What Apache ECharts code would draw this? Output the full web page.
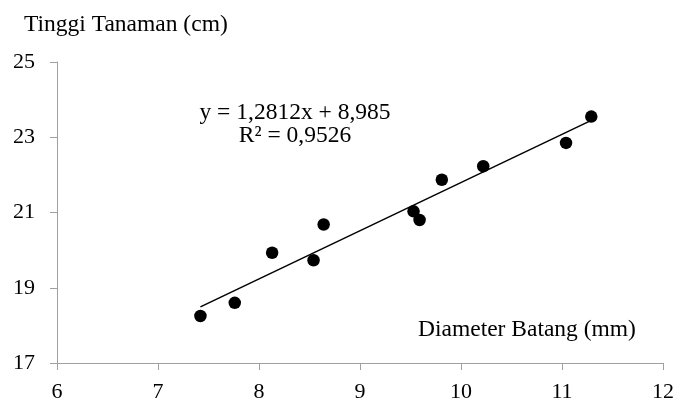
<!DOCTYPE html>
<html>
<head>
<meta charset="utf-8">
<script src="https://cdn.jsdelivr.net/npm/echarts@6/dist/echarts.min.js"></script>
<style>
  html, body { margin: 0; padding: 0; background: #fff; }
  #chart { width: 677px; height: 403px; }
</style>
</head>
<body>
<div id="chart"></div>
<script>
  // diameter batang (mm) vs tinggi tanaman (cm)
  var diameter = [7.42, 7.76, 8.13, 8.54, 8.64, 9.53, 9.59, 9.81, 10.22, 11.04, 11.29];
  var tinggi   = [18.25, 18.6, 19.93, 19.73, 20.68, 21.03, 20.8, 21.87, 22.23, 22.85, 23.55];
  var slope = 1.2812, intercept = 8.985;
  var xTicks = [6, 7, 8, 9, 10, 11, 12];
  var yTicks = [17, 19, 21, 23, 25];

  var font = '"Liberation Serif", "Times New Roman", serif';
  var axisGray = '#a0a0a0';

  var points = diameter.map(function (d, i) { return [d, tinggi[i]]; });
  var xMin = Math.min.apply(null, diameter), xMax = Math.max.apply(null, diameter);
  var trend = [[xMin, slope * xMin + intercept], [xMax, slope * xMax + intercept]];

  var chart = echarts.init(document.getElementById('chart'));
  chart.setOption({
    animation: false,
    title: {
      text: 'Tinggi Tanaman (cm)',
      left: 19, top: 8,
      textStyle: { fontFamily: font, fontSize: 23.5, fontWeight: 'normal', color: '#000' }
    },
    grid: { left: 57, right: 14, top: 62, bottom: 39, containLabel: false },
    xAxis: {
      type: 'value',
      min: xTicks[0], max: xTicks[xTicks.length - 1], interval: 1,
      axisLine: { show: true, lineStyle: { color: axisGray, width: 1 } },
      axisTick: { show: true, length: 7, lineStyle: { color: axisGray } },
      splitLine: { show: false },
      axisLabel: { margin: 18, fontFamily: font, fontSize: 22, color: '#000' }
    },
    yAxis: {
      type: 'value',
      min: yTicks[0], max: yTicks[yTicks.length - 1], interval: 2,
      axisLine: { show: true, lineStyle: { color: axisGray, width: 1 } },
      axisTick: { show: true, length: 7, lineStyle: { color: axisGray } },
      splitLine: { show: false },
      axisLabel: { margin: 22, fontFamily: font, fontSize: 22, color: '#000' }
    },
    graphic: [
      {
        type: 'text', x: 418, y: 318,
        style: { text: 'Diameter Batang (mm)', font: '23.5px ' + font, fill: '#000' }
      },
      {
        type: 'text', x: 295, y: 101,
        style: {
          text: 'y = 1,2812x + 8,985\nR² = 0,9526',
          font: '23.5px ' + font, fill: '#000', lineHeight: 23,
          align: 'center', verticalAlign: 'top'
        }
      }
    ],
    series: [
      {
        type: 'line',
        data: trend,
        symbol: 'none',
        lineStyle: { color: '#000', width: 1.5 },
        z: 1
      },
      {
        type: 'scatter',
        data: points,
        symbol: 'circle',
        symbolSize: 12.5,
        itemStyle: { color: '#000', opacity: 1 },
        z: 2
      }
    ]
  });
</script>
</body>
</html>
